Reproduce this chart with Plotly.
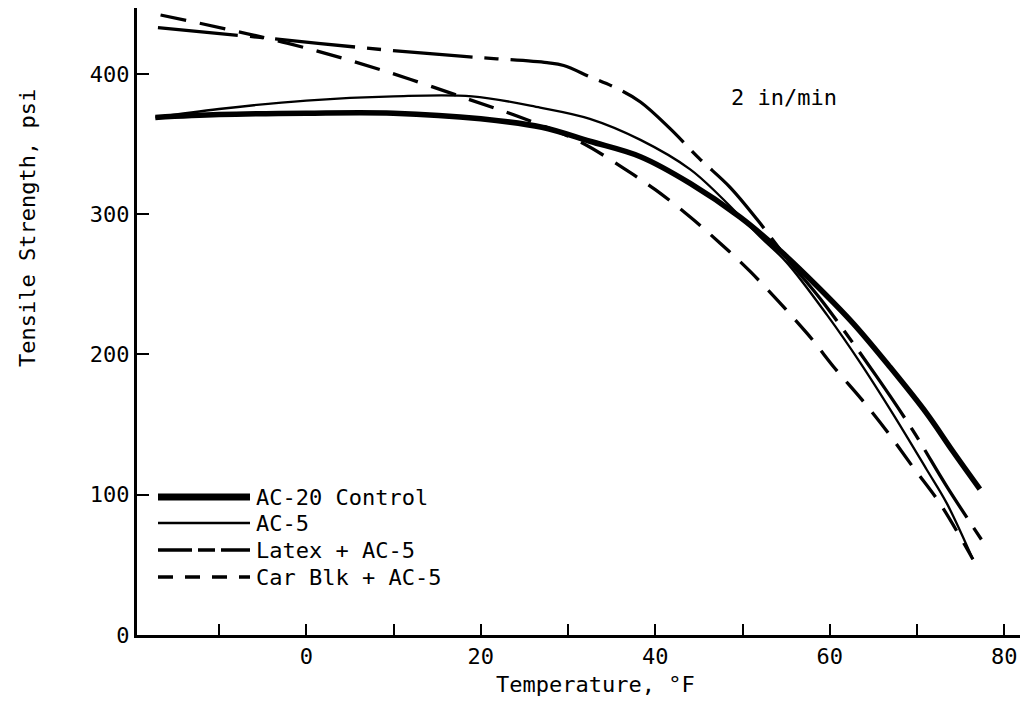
import plotly.graph_objects as go

# Tensile strength vs. temperature at 2 in/min loading rate
temp_ac20 = [-17.3, -10, 0, 10, 20, 27, 32.5, 38.3, 44, 49.7, 54.3, 58.5, 62.7, 66.9, 71.1, 74.1, 77.2]
ts_ac20 = [369, 371, 372, 372, 368, 362, 352, 341, 322, 298, 274, 249, 222, 191, 158, 131, 104]

temp_ac5 = [-17.3, -10, 0, 10, 19, 26.8, 32.5, 38.3, 44, 47.4, 52, 55, 59.7, 63.5, 67.2, 71.1, 73.4, 76.4]
ts_ac5 = [369, 375, 381, 384, 384, 376, 368, 353, 332, 313, 284, 266, 228, 194, 158, 118, 94, 54]

temp_latex = [-17, -5.3, 9.3, 19.1, 27.6, 29.5, 32.5, 35.5, 38.3, 41.7, 45, 48.6, 51.7, 55.4, 59, 65.4, 69.5, 73.4, 77.6]
ts_latex = [433, 426, 417, 412, 408, 406, 398, 390, 380, 361, 340, 319, 296, 266, 239, 184, 146, 106, 66]

temp_carblk = [-16.7, -2.2, 8.5, 18.8, 25, 31.4, 36.3, 40, 44, 47.4, 50.9, 57.4, 60.6, 63.7, 66.7, 69.5, 72.6, 76.4]
ts_carblk = [442, 422, 403, 381.5, 368, 351.6, 333, 317.5, 298, 279.5, 259, 215, 190, 167.6, 144, 120, 94, 54]

series_names = ["AC-20 Control", "AC-5", "Latex + AC-5", "Car Blk + AC-5"]

x_tick_vals = [-10, 0, 10, 20, 30, 40, 50, 60, 70, 80]
x_tick_text = ["", "0", "", "20", "", "40", "", "60", "", "80"]
y_tick_vals = [0, 100, 200, 300, 400]
y_tick_text = ["0", "100", "200", "300", "400"]

FONT = "DejaVu Sans Mono"
FS = 22

# plot-area geometry (pixels)
W, H = 1023, 713
L, R, T, B = 137, 3, 8, 78
PW, PH = W - L - R, H - T - B


def px_x(px):
    return (px - L) / PW


def px_y(py):
    return (H - B - py) / PH


styles = [
    dict(width=5.5, dash="solid"),
    dict(width=2.3, dash="solid"),
    dict(width=3.3, dash="80px,12px,14px,12px"),
    dict(width=3.3, dash="26px,14px"),
]
legend_styles = [
    dict(width=7, dash="solid"),
    dict(width=2.5, dash="solid"),
    dict(width=3.5, dash="34px,6px,17px,6px"),
    dict(width=3.5, dash="15px,12px"),
]

fig = go.Figure()
data = [(temp_ac20, ts_ac20), (temp_ac5, ts_ac5), (temp_latex, ts_latex), (temp_carblk, ts_carblk)]
for name, (xs, ys), st in zip(series_names, data, styles):
    fig.add_trace(go.Scatter(
        x=xs, y=ys, mode="lines", name=name, showlegend=False,
        line=dict(color="black", width=st["width"], dash=st["dash"], shape="spline", smoothing=1.0),
    ))

# key in the lower left
legend_rows_y = [497, 523, 550, 577]
shapes = []
annotations = []
for name, st, ry in zip(series_names, legend_styles, legend_rows_y):
    shapes.append(dict(
        type="line", xref="paper", yref="paper",
        x0=px_x(158), x1=px_x(250), y0=px_y(ry), y1=px_y(ry),
        line=dict(color="black", width=st["width"], dash=st["dash"]),
    ))
    annotations.append(dict(
        xref="paper", yref="paper", x=px_x(254), y=px_y(ry),
        xanchor="left", yanchor="middle", showarrow=False, text=name,
        font=dict(family=FONT, size=FS, color="black"),
    ))

annotations.append(dict(
    xref="x", yref="y", x=54.8, y=383, xanchor="center", yanchor="middle",
    showarrow=False, text="2 in/min", font=dict(family=FONT, size=FS, color="black"),
))
annotations.append(dict(
    xref="paper", yref="paper", x=px_x(595), y=px_y(684), xanchor="center", yanchor="middle",
    showarrow=False, text="Temperature, °F", font=dict(family=FONT, size=FS, color="black"),
))
annotations.append(dict(
    xref="paper", yref="paper", x=px_x(27), y=px_y(228), xanchor="center", yanchor="middle",
    showarrow=False, text="Tensile Strength, psi", textangle=-90,
    font=dict(family=FONT, size=FS, color="black"),
))

axis_common = dict(
    showgrid=False, zeroline=False, showline=True, linecolor="black", linewidth=3,
    ticks="inside", tickcolor="black", tickwidth=2,
    tickfont=dict(family=FONT, size=FS, color="black"),
)

fig.update_layout(
    width=W, height=H,
    margin=dict(l=L, r=R, t=T, b=B),
    paper_bgcolor="white", plot_bgcolor="white",
    xaxis=dict(range=[-19.4, 81.8], tickmode="array", tickvals=x_tick_vals, ticktext=x_tick_text,
               ticklen=11, **axis_common),
    yaxis=dict(range=[0, 447], tickmode="array", tickvals=y_tick_vals, ticktext=y_tick_text,
               ticklen=12, **axis_common),
    shapes=shapes,
    annotations=annotations,
    showlegend=False,
)

fig.write_html("out.html")
